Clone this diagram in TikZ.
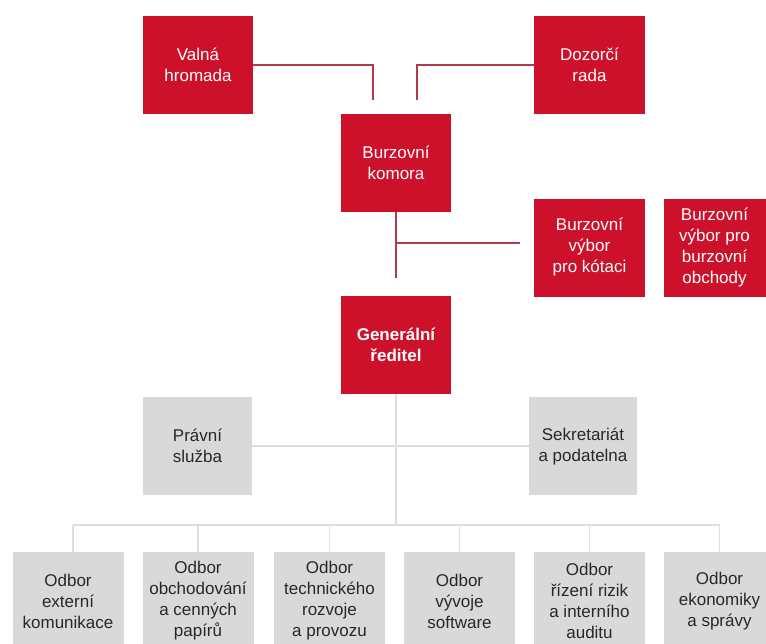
\documentclass[tikz,border=0pt]{standalone}
\usepackage{fontspec}
\setmainfont{Liberation Sans}
\definecolor{boxred}{RGB}{206,17,42}
\definecolor{linered}{RGB}{178,58,78}
\definecolor{boxgray}{RGB}{217,217,217}
\definecolor{linegray}{RGB}{222,222,222}
\definecolor{textgray}{RGB}{40,40,40}
\begin{document}
\begin{tikzpicture}[x=1pt,y=-1pt,
  boxtext/.style={align=center, inner sep=0pt, font=\fontsize{17}{21}\selectfont},
  redbox/.style={boxtext, fill=boxred, text=white, minimum width=110, minimum height=98},
  graybox/.style={boxtext, fill=boxgray, text=textgray, minimum width=110, minimum height=98},
  redline/.style={draw=linered, line width=1.6pt},
  grayline/.style={draw=linegray, line width=1.6pt}]
\clip (0,0) rectangle (766,643);
\fill[white] (0,0) rectangle (766,643);

% red top part
\node[redbox] (valna) at (198,65) {Valná\\hromada};
\node[redbox, minimum width=111] (dozor) at (589.5,65) {Dozorčí\\rada};
\node[redbox] (komora) at (396,163) {Burzovní\\komora};
\node[redbox, minimum width=111] (kotaci) at (589.5,247.5) {Burzovní\\výbor\\pro kótaci};
\node[redbox, minimum width=102] (obchody) at (714.5,247.5) {Burzovní\\výbor pro\\burzovní\\obchody};
\node[redbox, font=\fontsize{17}{21}\selectfont\bfseries] (gr) at (396,345) {Generální\\ředitel};

\coordinate (k1) at (373,100);
\coordinate (k2) at (417,100);
\coordinate (k3) at (396,278);
\coordinate (k4) at (520,243);

\draw[redline] (valna.east) -| (k1);
\draw[redline] (dozor.west) -| (k2);
\draw[redline] (komora.south) -- (k3);
\draw[redline] (k4) -- (k4 -| komora.south);

% staff units
\node[graybox, minimum width=109] (pravni) at (197.5,446) {Právní\\služba};
\node[graybox, minimum width=108] (sekr) at (583,446) {Sekretariát\\a podatelna};

% bottom departments
\node[graybox, minimum width=111] (o1) at (68,601) {Odbor\\externí\\komunikace};
\node[graybox, minimum width=111] (o2) at (198,601) {Odbor\\obchodování\\a cenných\\papírů};
\node[graybox, minimum width=111] (o3) at (329.5,601) {Odbor\\technického\\rozvoje\\a provozu};
\node[graybox, minimum width=111] (o4) at (459.5,601) {Odbor\\vývoje\\software};
\node[graybox, minimum width=111] (o5) at (589.5,601) {Odbor\\řízení rizik\\a interního\\auditu};
\node[graybox, minimum width=111] (o6) at (719.5,601) {Odbor\\ekonomiky\\a správy};

\coordinate (busL) at (73,525);
\coordinate (busR) at (719.5,525);

\begin{scope}[on background layer/.style={}]
\draw[grayline] (gr.south) -- (gr.south |- busL);
\draw[grayline] (pravni.east) -- (sekr.west);
\draw[grayline] (busL) -- (busR);
\draw[grayline] (busL) -- ([xshift=5pt]o1.north);
\draw[grayline] (o2.north |- busL) -- (o2.north);
\draw[grayline] (o3.north |- busL) -- (o3.north);
\draw[grayline] (o4.north |- busL) -- (o4.north);
\draw[grayline] (o5.north |- busL) -- (o5.north);
\draw[grayline] (busR) -- (o6.north);
\end{scope}
\end{tikzpicture}
\end{document}
